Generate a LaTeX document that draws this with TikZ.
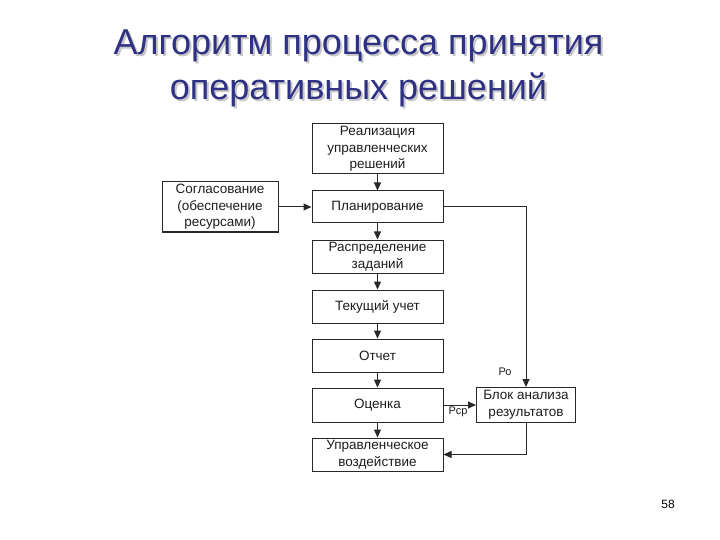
\documentclass[tikz,border=0pt]{standalone}
\usepackage{fontspec}
\setmainfont{Liberation Sans}
\usetikzlibrary{arrows.meta}
\definecolor{titleblue}{RGB}{46,49,132}
\definecolor{boxline}{RGB}{40,40,40}
\definecolor{boxtext}{RGB}{30,30,30}
\tikzset{
  stepbox/.style={draw=boxline, line width=1pt, fill=white, inner sep=0pt,
    font=\fontsize{13.5}{16.5}\selectfont, text=boxtext, align=center},
  conn/.style={draw=boxline, line width=1pt, -{Triangle[length=8pt,width=7pt]}},
  lbl/.style={font=\fontsize{11}{13}\selectfont, text=boxtext, inner sep=0pt},
  titletext/.style={font=\fontsize{36}{45}\selectfont, inner sep=0pt, align=center}
}
\begin{document}
\begin{tikzpicture}[x=1pt,y=-1pt]
\useasboundingbox (0,0) rectangle (720,540);
% title with shadow
\node[titletext, text=black!22] (tshadow) at (360.5,70.5) {Алгоритм процесса принятия\\оперативных решений};
\node[titletext, text=titleblue] (title) at (358.5,68.5) {Алгоритм процесса принятия\\оперативных решений};
% boxes
\node[stepbox, minimum width=131pt, minimum height=50pt] (r1) at (377.5,149) {Реализация\\управленческих\\решений};
\node[stepbox, minimum width=131pt, minimum height=32pt] (plan) at (377.5,207) {Планирование};
\node[stepbox, minimum width=116pt, minimum height=50pt] (sogl) at (220,207) {Согласование\\(обеспечение\\ресурсами)};
\node[stepbox, minimum width=131pt, minimum height=33pt] (raspr) at (377.5,256.5) {Распределение\\заданий};
\node[stepbox, minimum width=131pt, minimum height=33pt] (tek) at (377.5,306.5) {Текущий учет};
\node[stepbox, minimum width=131pt, minimum height=33pt] (otch) at (377.5,355.5) {Отчет};
\node[stepbox, minimum width=131pt, minimum height=34pt] (ocen) at (377.5,405) {Оценка};
\node[stepbox, minimum width=131pt, minimum height=33pt] (upr) at (377.5,454.5) {Управленческое\\воздействие};
\node[stepbox, minimum width=99pt, minimum height=35pt] (blok) at (526,405) {Блок анализа\\результатов};
% connectors
\draw[conn] (r1) -- (plan);
\draw[conn] (sogl) -- (plan);
\draw[conn] (plan) -- (raspr);
\draw[conn] (raspr) -- (tek);
\draw[conn] (tek) -- (otch);
\draw[conn] (otch) -- (ocen);
\draw[conn] (ocen) -- (upr);
\draw[conn] (plan.east) -| (blok.north);
\draw[conn] (ocen.east) -- (blok.west);
\draw[conn] (blok.south) |- (upr.east);
% labels
\node[lbl] (ro) at (505,372) {Ро};
\node[lbl] (rsr) at (458,412) {Рср};
\node[font=\fontsize{12}{14}\selectfont, text=black] (pg) at (668,504) {58};
\end{tikzpicture}
\end{document}
